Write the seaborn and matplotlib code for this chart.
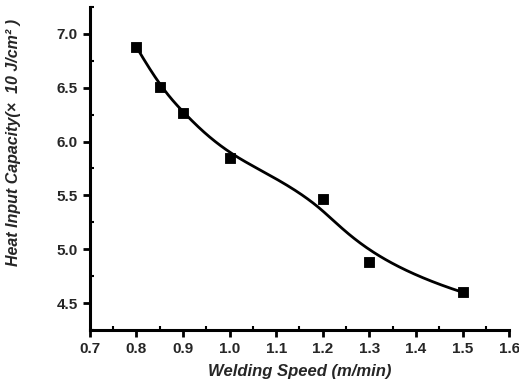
import numpy as np
import pandas as pd
import matplotlib
matplotlib.use("Agg")
import matplotlib.pyplot as plt
import seaborn as sns
from matplotlib.ticker import MultipleLocator

speed = [0.80, 0.85, 0.90, 1.00, 1.20, 1.30, 1.50]
heat = [6.88, 6.51, 6.27, 5.85, 5.47, 4.88, 4.60]
x_ticks = [0.7, 0.8, 0.9, 1.0, 1.1, 1.2, 1.3, 1.4, 1.5, 1.6]
y_ticks = [4.5, 5.0, 5.5, 6.0, 6.5, 7.0]


def bspline(ctrl_x, ctrl_y, n=300, k=3):
    # clamped uniform B-spline using data points as control points
    P = np.column_stack([ctrl_x, ctrl_y])
    m = len(P)
    inner = np.linspace(0, 1, m - k + 1)
    knots = np.concatenate([[0] * k, inner, [1] * k])
    ts = np.linspace(0, 1, n)
    ts[-1] = 1 - 1e-12
    out = []
    for t in ts:
        N = np.array([1.0 if knots[i] <= t < knots[i + 1] else 0.0
                      for i in range(len(knots) - 1)])
        for d in range(1, k + 1):
            Nn = np.zeros(len(knots) - 1 - d)
            for i in range(len(Nn)):
                a = 0.0
                if knots[i + d] != knots[i]:
                    a = (t - knots[i]) / (knots[i + d] - knots[i]) * N[i]
                b = 0.0
                if knots[i + d + 1] != knots[i + 1]:
                    b = (knots[i + d + 1] - t) / (knots[i + d + 1] - knots[i + 1]) * N[i + 1]
                Nn[i] = a + b
            N = Nn
        out.append(N @ P)
    out = np.array(out)
    return out[:, 0], out[:, 1]


sns.set_theme(style="ticks")
plt.rcParams['font.family'] = ['Liberation Sans', 'DejaVu Sans']

df = pd.DataFrame({"speed": speed, "heat": heat})
bx, by = bspline(speed, heat)
fit = pd.DataFrame({"speed": bx, "heat": by})

fig = plt.figure(figsize=(5.19, 3.90), dpi=100)
ax = fig.add_axes([0.173, 0.154, 0.808, 0.828])
sns.lineplot(data=fit, x="speed", y="heat", ax=ax, color="black", linewidth=2,
             sort=False, estimator=None)
sns.scatterplot(data=df, x="speed", y="heat", ax=ax, marker="s", color="black",
                s=60, edgecolor="black", zorder=5)

ax.set_xlim(0.7, 1.6)
ax.set_ylim(4.25, 7.25)
ax.set_xticks(x_ticks)
ax.set_yticks(y_ticks)
ax.set_xticklabels([f"{v:.1f}" for v in x_ticks], fontweight="bold", fontsize=11)
ax.set_yticklabels([f"{v:.1f}" for v in y_ticks], fontweight="bold", fontsize=11)
ax.xaxis.set_minor_locator(MultipleLocator(0.05))
ax.yaxis.set_minor_locator(MultipleLocator(0.25))
ax.tick_params(which="major", direction="out", length=5, width=2, color="black")
ax.tick_params(which="minor", direction="in", length=3, width=1.5, color="black")
for s in ["top", "right"]:
    ax.spines[s].set_visible(False)
for s in ["left", "bottom"]:
    ax.spines[s].set_linewidth(2.2)
    ax.spines[s].set_color("black")

ax.set_xlabel("Welding Speed (m/min)", fontweight="bold", fontstyle="italic",
              fontsize=12, labelpad=6)
ax.set_ylabel("Heat Input Capacity(×  10 J/cm² )", fontweight="bold",
              fontstyle="italic", fontsize=11.5)
ax.yaxis.set_label_coords(-0.165, 0.58)
fig.savefig("out.png", dpi=100)
